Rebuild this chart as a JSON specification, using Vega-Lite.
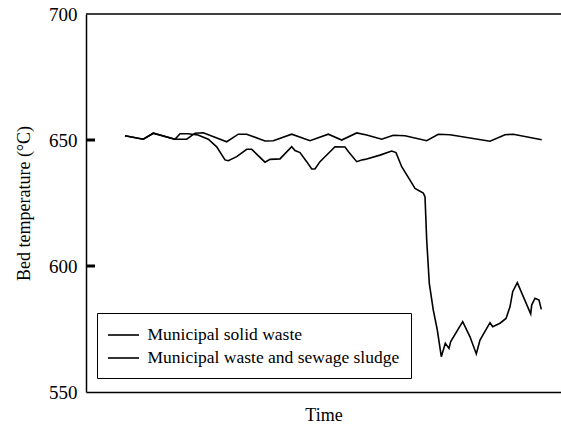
{
  "$schema": "https://vega.github.io/schema/vega-lite/v6.json",
  "width": 475,
  "height": 378,
  "autosize": {"type": "none"},
  "padding": {"left": 86, "top": 14, "right": 0, "bottom": 32},
  "background": "white",
  "config": {
    "view": {"stroke": null},
    "font": "Times New Roman, Liberation Serif, serif"
  },
  "datasets": {
    "series": [
      {"t": 39, "temp": 651.7, "s": "Municipal solid waste"},
      {"t": 57.3, "temp": 650.3, "s": "Municipal solid waste"},
      {"t": 67.3, "temp": 652.7, "s": "Municipal solid waste"},
      {"t": 89, "temp": 650.3, "s": "Municipal solid waste"},
      {"t": 100.7, "temp": 650.3, "s": "Municipal solid waste"},
      {"t": 109, "temp": 652.7, "s": "Municipal solid waste"},
      {"t": 117.3, "temp": 652.9, "s": "Municipal solid waste"},
      {"t": 140.7, "temp": 649.3, "s": "Municipal solid waste"},
      {"t": 152.3, "temp": 652.3, "s": "Municipal solid waste"},
      {"t": 160.7, "temp": 652.3, "s": "Municipal solid waste"},
      {"t": 179, "temp": 649.6, "s": "Municipal solid waste"},
      {"t": 187.3, "temp": 649.7, "s": "Municipal solid waste"},
      {"t": 205.7, "temp": 652.3, "s": "Municipal solid waste"},
      {"t": 224, "temp": 649.7, "s": "Municipal solid waste"},
      {"t": 242.3, "temp": 652.3, "s": "Municipal solid waste"},
      {"t": 255.7, "temp": 650.0, "s": "Municipal solid waste"},
      {"t": 270.7, "temp": 652.8, "s": "Municipal solid waste"},
      {"t": 280.7, "temp": 652.0, "s": "Municipal solid waste"},
      {"t": 295.7, "temp": 650.3, "s": "Municipal solid waste"},
      {"t": 307.3, "temp": 651.9, "s": "Municipal solid waste"},
      {"t": 319, "temp": 651.7, "s": "Municipal solid waste"},
      {"t": 340.7, "temp": 649.7, "s": "Municipal solid waste"},
      {"t": 352.3, "temp": 652.3, "s": "Municipal solid waste"},
      {"t": 364, "temp": 652.1, "s": "Municipal solid waste"},
      {"t": 404, "temp": 649.5, "s": "Municipal solid waste"},
      {"t": 419, "temp": 652.1, "s": "Municipal solid waste"},
      {"t": 427.3, "temp": 652.3, "s": "Municipal solid waste"},
      {"t": 455.7, "temp": 650.1, "s": "Municipal solid waste"},

      {"t": 39, "temp": 651.7, "s": "Municipal waste and sewage sludge"},
      {"t": 57.3, "temp": 650.3, "s": "Municipal waste and sewage sludge"},
      {"t": 67.3, "temp": 652.7, "s": "Municipal waste and sewage sludge"},
      {"t": 89, "temp": 650.3, "s": "Municipal waste and sewage sludge"},
      {"t": 94, "temp": 652.5, "s": "Municipal waste and sewage sludge"},
      {"t": 102, "temp": 652.5, "s": "Municipal waste and sewage sludge"},
      {"t": 112, "temp": 652.0, "s": "Municipal waste and sewage sludge"},
      {"t": 122.3, "temp": 650.3, "s": "Municipal waste and sewage sludge"},
      {"t": 130.7, "temp": 647.3, "s": "Municipal waste and sewage sludge"},
      {"t": 139, "temp": 642.1, "s": "Municipal waste and sewage sludge"},
      {"t": 142.3, "temp": 641.8, "s": "Municipal waste and sewage sludge"},
      {"t": 150.7, "temp": 643.4, "s": "Municipal waste and sewage sludge"},
      {"t": 160.7, "temp": 646.3, "s": "Municipal waste and sewage sludge"},
      {"t": 165.7, "temp": 646.3, "s": "Municipal waste and sewage sludge"},
      {"t": 179, "temp": 641.2, "s": "Municipal waste and sewage sludge"},
      {"t": 184, "temp": 642.3, "s": "Municipal waste and sewage sludge"},
      {"t": 194, "temp": 642.5, "s": "Municipal waste and sewage sludge"},
      {"t": 205.7, "temp": 647.3, "s": "Municipal waste and sewage sludge"},
      {"t": 209, "temp": 645.8, "s": "Municipal waste and sewage sludge"},
      {"t": 214, "temp": 645.0, "s": "Municipal waste and sewage sludge"},
      {"t": 220.7, "temp": 641.4, "s": "Municipal waste and sewage sludge"},
      {"t": 225.7, "temp": 638.5, "s": "Municipal waste and sewage sludge"},
      {"t": 229, "temp": 638.5, "s": "Municipal waste and sewage sludge"},
      {"t": 234, "temp": 641.4, "s": "Municipal waste and sewage sludge"},
      {"t": 249, "temp": 647.3, "s": "Municipal waste and sewage sludge"},
      {"t": 259, "temp": 647.2, "s": "Municipal waste and sewage sludge"},
      {"t": 262.3, "temp": 645.4, "s": "Municipal waste and sewage sludge"},
      {"t": 270.7, "temp": 641.4, "s": "Municipal waste and sewage sludge"},
      {"t": 275.7, "temp": 642.1, "s": "Municipal waste and sewage sludge"},
      {"t": 279, "temp": 642.3, "s": "Municipal waste and sewage sludge"},
      {"t": 294, "temp": 644.0, "s": "Municipal waste and sewage sludge"},
      {"t": 305.7, "temp": 645.6, "s": "Municipal waste and sewage sludge"},
      {"t": 310, "temp": 645.0, "s": "Municipal waste and sewage sludge"},
      {"t": 315.7, "temp": 639.4, "s": "Municipal waste and sewage sludge"},
      {"t": 324, "temp": 634.1, "s": "Municipal waste and sewage sludge"},
      {"t": 329, "temp": 630.8, "s": "Municipal waste and sewage sludge"},
      {"t": 337.3, "temp": 628.9, "s": "Municipal waste and sewage sludge"},
      {"t": 339, "temp": 627.5, "s": "Municipal waste and sewage sludge"},
      {"t": 340.7, "temp": 610.3, "s": "Municipal waste and sewage sludge"},
      {"t": 343.3, "temp": 593.1, "s": "Municipal waste and sewage sludge"},
      {"t": 347.3, "temp": 582.5, "s": "Municipal waste and sewage sludge"},
      {"t": 351.3, "temp": 574.6, "s": "Municipal waste and sewage sludge"},
      {"t": 355.3, "temp": 564.0, "s": "Municipal waste and sewage sludge"},
      {"t": 359.3, "temp": 569.3, "s": "Municipal waste and sewage sludge"},
      {"t": 363, "temp": 567.3, "s": "Municipal waste and sewage sludge"},
      {"t": 364.7, "temp": 570.0, "s": "Municipal waste and sewage sludge"},
      {"t": 376.7, "temp": 577.9, "s": "Municipal waste and sewage sludge"},
      {"t": 384, "temp": 571.9, "s": "Municipal waste and sewage sludge"},
      {"t": 390.3, "temp": 565.1, "s": "Municipal waste and sewage sludge"},
      {"t": 394, "temp": 570.6, "s": "Municipal waste and sewage sludge"},
      {"t": 404, "temp": 577.5, "s": "Municipal waste and sewage sludge"},
      {"t": 406.7, "temp": 575.9, "s": "Municipal waste and sewage sludge"},
      {"t": 414, "temp": 577.3, "s": "Municipal waste and sewage sludge"},
      {"t": 420, "temp": 579.2, "s": "Municipal waste and sewage sludge"},
      {"t": 424, "temp": 583.8, "s": "Municipal waste and sewage sludge"},
      {"t": 426.7, "temp": 589.8, "s": "Municipal waste and sewage sludge"},
      {"t": 431.3, "temp": 593.4, "s": "Municipal waste and sewage sludge"},
      {"t": 444.7, "temp": 581.0, "s": "Municipal waste and sewage sludge"},
      {"t": 445.7, "temp": 584.5, "s": "Municipal waste and sewage sludge"},
      {"t": 449, "temp": 587.2, "s": "Municipal waste and sewage sludge"},
      {"t": 453, "temp": 586.5, "s": "Municipal waste and sewage sludge"},
      {"t": 455.3, "temp": 582.8, "s": "Municipal waste and sewage sludge"}
    ],
    "border": [{"temp": 700}],
    "tickmarks": [{"temp": 600, "t0": 0, "t1": 9}, {"temp": 650, "t0": 0, "t1": 9}]
  },
  "layer": [
    {
      "data": {"name": "border"},
      "mark": {"type": "rule", "color": "black", "strokeWidth": 1.5},
      "encoding": {"y": {"field": "temp", "type": "quantitative", "scale": {"domain": [550, 700], "nice": false, "zero": false}}}
    },
    {
      "data": {"name": "tickmarks"},
      "mark": {"type": "rule", "color": "black", "strokeWidth": 3, "strokeCap": "butt"},
      "encoding": {
        "y": {"field": "temp", "type": "quantitative"},
        "x": {"field": "t0", "type": "quantitative"},
        "x2": {"field": "t1"}
      }
    },
    {
      "data": {"name": "series"},
      "mark": {"type": "line", "strokeWidth": 1.6, "interpolate": "linear"},
      "encoding": {
        "x": {
          "field": "t",
          "type": "quantitative",
          "scale": {"domain": [0, 475], "nice": false, "zero": false},
          "axis": {
            "title": "Time",
            "titleFont": "Times New Roman, Liberation Serif, serif",
            "titleFontSize": 18,
            "titleFontWeight": "normal",
            "titleColor": "black",
            "titlePadding": 14,
            "labels": false,
            "ticks": false,
            "grid": false,
            "domainColor": "black",
            "domainWidth": 1.5
          }
        },
        "y": {
          "field": "temp",
          "type": "quantitative",
          "scale": {"domain": [550, 700], "nice": false, "zero": false},
          "axis": {
            "title": "Bed temperature (°C)",
            "titleFont": "Times New Roman, Liberation Serif, serif",
            "titleFontSize": 18,
            "titleFontWeight": "normal",
            "titleColor": "black",
            "titlePadding": 15,
            "values": [550, 600, 650, 700],
            "labelFont": "Times New Roman, Liberation Serif, serif",
            "labelFontSize": 19,
            "labelColor": "black",
            "labelPadding": 9,
            "ticks": false,
            "grid": false,
            "domainColor": "black",
            "domainWidth": 1.5
          }
        },
        "color": {
          "field": "s",
          "type": "nominal",
          "sort": ["Municipal solid waste", "Municipal waste and sewage sludge"],
          "scale": {"domain": ["Municipal solid waste", "Municipal waste and sewage sludge"], "range": ["black", "black"]},
          "legend": {
            "title": null,
            "orient": "none",
            "legendX": 11,
            "legendY": 299,
            "direction": "vertical",
            "symbolType": "M-1.55,0H1.55",
            "symbolSize": 400,
            "symbolOffset": 4.5,
            "symbolStrokeWidth": 1.6,
            "symbolStrokeColor": "black",
            "labelFont": "Times New Roman, Liberation Serif, serif",
            "labelFontSize": 17.5,
            "labelColor": "black",
            "labelOffset": 13,
            "labelLimit": 400,
            "rowPadding": 3,
            "padding": 11,
            "strokeColor": "black",
            "fillColor": "white"
          }
        }
      }
    }
  ]
}
